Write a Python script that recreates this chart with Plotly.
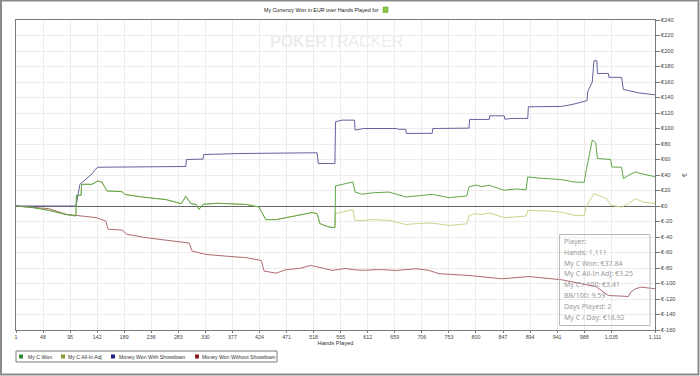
import plotly.graph_objects as go

# ---------------- data ----------------
series_names = ["My C Won", "My C All-In Adj", "Money Won With Showdown", "Money Won Without Showdown"]

won_hands = [1, 30, 58, 88, 105, 106, 114, 115, 133, 135, 143, 150, 159, 185, 190, 220, 262, 288, 296, 305, 314,
             319, 326, 350, 376, 401, 423, 428, 435, 453, 475, 495, 510, 515, 524, 529, 545, 555, 556, 574, 586,
             590, 602, 620, 649, 678, 700, 724, 753, 770, 784, 788, 800, 810, 823, 849, 870, 887, 890, 910, 927,
             949, 970, 988, 991, 1002, 1008, 1011, 1034, 1036, 1053, 1056, 1065, 1077, 1085, 1091, 1100, 1111]
won_vals = [0, -2, -5.6, -11, -12.9, 13.8, 13.8, 28, 28, 29, 32.3, 31, 19.4, 18.5, 15, 11.6, 8.2, 3, 12.5, 3, 2,
            -4.3, 2.2, 3.5, 2.9, 2, -1.3, -9, -17.6, -17.6, -14.7, -12, -9.9, -8.5, -9.9, -22.8, -27.2, -28, 25.9,
            29, 31, 18.1, 15.1, 17, 18, 11.6, 13, 15, 10.8, 12, 13, 24.6, 27, 25, 26.8, 20.3, 22, 21, 37.5, 36,
            35.4, 34, 31, 30.5, 44, 85, 82, 61.3, 60, 50.4, 50, 35.4, 39.7, 44, 42, 41, 39, 37.84]

adj_hands = [1, 30, 58, 88, 105, 106, 114, 115, 133, 135, 143, 150, 159, 185, 190, 220, 262, 288, 296, 305, 314,
             319, 326, 350, 376, 401, 423, 428, 435, 453, 475, 495, 510, 515, 524, 529, 545, 555, 556, 574, 586,
             590, 602, 620, 649, 678, 700, 724, 753, 770, 784, 788, 800, 810, 823, 849, 870, 887, 890, 910, 927,
             949, 970, 988, 991, 1005, 1013, 1027, 1034, 1053, 1065, 1077, 1085, 1091, 1100, 1111]
adj_vals = [0, -2, -5.6, -11, -12.9, 13.8, 13.8, 28, 28, 29, 32.3, 31, 19.4, 18.5, 15, 11.6, 8.2, 3, 12.5, 3, 2,
            -4.3, 2.2, 3.5, 2.9, 2, -1.3, -9, -17.6, -17.6, -14.7, -12, -9.9, -8.5, -9.9, -22.8, -27.2, -28, -9.9,
            -6.4, -4.6, -18.5, -19, -17.5, -18.5, -24, -22.5, -22, -25, -24, -23, -12, -10, -11, -9, -15, -13.5,
            -13, -5.6, -6, -6.5, -8, -12, -12.5, -1.3, 16, 14, 9.5, 0.9, -1.3, 3, 9.5, 7, 5.2, 4, 3.25]

sd_hands = [1, 105, 106, 112, 134, 137, 143, 220, 296, 297, 326, 327, 388, 524, 526, 555, 556, 567, 589, 590, 605,
            663, 664, 678, 679, 724, 725, 788, 789, 823, 824, 849, 850, 863, 890, 891, 949, 970, 988, 993, 994,
            1002, 1005, 1010, 1011, 1030, 1031, 1053, 1056, 1082, 1111]
sd_vals = [0, 0, 3, 28, 42, 46, 50, 50.5, 51, 60, 60.5, 66.4, 67.7, 68.7, 54.8, 54.8, 108.6, 110.8, 110.8, 97.9,
           100, 100, 99, 99, 93.6, 93.8, 100, 100.5, 111.7, 111.7, 116.4, 116.4, 112, 113, 113, 128, 128.5, 131.5,
           134.5, 136, 147.4, 160, 187.5, 187.5, 171, 171, 166, 166, 150.5, 146, 143.5]

nsd_hands = [1, 58, 88, 105, 140, 157, 161, 185, 194, 227, 272, 302, 307, 331, 371, 401, 427, 432, 453, 470, 493,
             513, 533, 550, 574, 585, 602, 631, 661, 696, 718, 736, 788, 823, 845, 892, 922, 949, 984, 1008, 1030,
             1065, 1069, 1077, 1087, 1111]
nsd_vals = [0, -3.4, -10.7, -12.4, -15, -19.4, -30, -31, -36.6, -40.9, -45.2, -47.8, -58.2, -62.5, -65, -66.7,
            -70.2, -84, -86.6, -82.2, -80.6, -76.7, -80, -83.1, -80.6, -82, -83, -82, -83.1, -81, -83, -87.4,
            -89.6, -91.8, -93.9, -91, -93.5, -95.2, -100.4, -103.8, -115.5, -116.7, -111, -106.8, -104.7, -106.8]

x_tick_vals = [1, 48, 95, 142, 189, 236, 283, 330, 377, 424, 471, 518, 565, 612, 659, 706, 753, 800, 847, 894,
               941, 988, 1035, 1111]
x_tick_text = ["1", "48", "95", "142", "189", "236", "283", "330", "377", "424", "471", "518", "565", "612",
               "659", "706", "753", "800", "847", "894", "941", "988", "1,035", "1,111"]
y_tick_vals = [240, 220, 200, 180, 160, 140, 120, 100, 80, 60, 40, 20, 0, -20, -40, -60, -80, -100, -120, -140, -160]
y_tick_text = ["€" + str(v) for v in y_tick_vals]

stats_lines = ["Player:", "Hands: 1,111", "My C Won: €37.84", "My C All-In Adj: €3.25", "My C / 100: €3.41",
               "BB/100: 9.59", "Days Played: 2", "My C / Day: €18.92"]

title_text = "My Currency Won in EUR over Hands Played for"

# ---------------- styling ----------------
line_colors = ["#5ea648", "#cdd28a", "#62629e", "#b06a6e"]
legend_colors = ["#2f8a2f", "#8f9a3c", "#1f1f86", "#8a1f22"]
SANS = "Liberation Sans, Arial"
W, H = 700, 376
L, R, T, B = 16, 655, 20, 330


def px(x):
    return (x - L) / (R - L)


def py(y):
    return (B - y) / (B - T)


fig = go.Figure()
# olive first so the green line sits on top where they coincide
fig.add_trace(go.Scatter(x=adj_hands, y=adj_vals, mode="lines", name=series_names[1],
                         line=dict(color=line_colors[1], width=1), showlegend=False, hoverinfo="skip"))
fig.add_trace(go.Scatter(x=nsd_hands, y=nsd_vals, mode="lines", name=series_names[3],
                         line=dict(color=line_colors[3], width=1), showlegend=False, hoverinfo="skip"))
fig.add_trace(go.Scatter(x=sd_hands, y=sd_vals, mode="lines", name=series_names[2],
                         line=dict(color=line_colors[2], width=1), showlegend=False, hoverinfo="skip"))
fig.add_trace(go.Scatter(x=won_hands, y=won_vals, mode="lines", name=series_names[0],
                         line=dict(color=line_colors[0], width=1), showlegend=False, hoverinfo="skip"))

shapes = []
annotations = []

# outer frame
shapes.append(dict(type="rect", xref="paper", yref="paper", x0=px(1), x1=px(698.5), y0=py(374.5), y1=py(0.5),
                   line=dict(color="#8a8a8a", width=2), layer="below"))

# title
annotations.append(dict(xref="paper", yref="paper", x=px(381), y=py(10), xanchor="right", yanchor="middle",
                        text=title_text, showarrow=False, font=dict(family=SANS, size=5.3, color="#222")))
shapes.append(dict(type="rect", xref="paper", yref="paper", x0=px(383), x1=px(388), y0=py(12.5), y1=py(7),
                   fillcolor="#8cc63f", line=dict(color="#5a9a2a", width=0.5)))

# watermark
annotations.append(dict(xref="paper", yref="paper", x=px(336), y=py(42), xanchor="center", yanchor="middle",
                        text="<b>POKER</b>TRACKER", showarrow=False,
                        font=dict(family=SANS, size=16, color="#ececec")))

# stats box
shapes.append(dict(type="rect", xref="paper", yref="paper", x0=px(559.5), x1=px(650), y0=py(325.5), y1=py(234.5),
                   line=dict(color="#b8b8b8", width=1)))
for i, s in enumerate(stats_lines):
    annotations.append(dict(xref="paper", yref="paper", x=px(561.5), y=py(241.5 + i * 10.8), xanchor="left",
                            yanchor="middle", text=s, showarrow=False,
                            font=dict(family="Noto Sans", size=7, color="#9a9a9a")))

# legend (drawn manually)
shapes.append(dict(type="rect", xref="paper", yref="paper", x0=px(16), x1=px(277), y0=py(362), y1=py(351),
                   line=dict(color="#7a7a7a", width=1)))
sq_x = [19, 61, 111, 195]
tx_x = [25.5, 66, 116.5, 200]
for i in range(4):
    shapes.append(dict(type="rect", xref="paper", yref="paper", x0=px(sq_x[i]), x1=px(sq_x[i] + 4),
                       y0=py(358.5), y1=py(354.5), fillcolor=legend_colors[i], line=dict(width=0)))
    annotations.append(dict(xref="paper", yref="paper", x=px(tx_x[i]), y=py(356.5), xanchor="left",
                            yanchor="middle", text=series_names[i], showarrow=False,
                            font=dict(family=SANS, size=5.2, color="#333")))

fig.update_layout(
    width=W, height=H,
    margin=dict(l=L, r=W - R, t=T, b=H - B, pad=0),
    paper_bgcolor="white", plot_bgcolor="white",
    showlegend=False,
    shapes=shapes, annotations=annotations,
    hovermode=False,
    xaxis=dict(range=[1, 1111], tickmode="array", tickvals=x_tick_vals, ticktext=x_tick_text, automargin=False,
               showgrid=True, gridcolor="#ececec", gridwidth=1, zeroline=False,
               showline=True, linecolor="#7a7a7a", linewidth=1, mirror=True,
               ticks="outside", ticklen=2, tickcolor="#7a7a7a",
               tickfont=dict(family=SANS, size=5.3, color="#444"),
               title=dict(text="Hands Played", standoff=1, font=dict(family=SANS, size=5.8, color="#333"))),
    yaxis=dict(range=[-160, 240], side="right", tickmode="array", tickvals=y_tick_vals, ticktext=y_tick_text,
               automargin=False,
               showgrid=True, gridcolor="#ececec", gridwidth=1,
               zeroline=True, zerolinecolor="#666666", zerolinewidth=1,
               showline=True, linecolor="#7a7a7a", linewidth=1, mirror=True,
               ticks="outside", ticklen=4, tickcolor="#7a7a7a",
               tickfont=dict(family=SANS, size=5.6, color="#444"),
               title=dict(text="€", standoff=7, font=dict(family=SANS, size=7, color="#555"))),
)

fig.write_html("out.html", config={"displayModeBar": False},
               post_script="document.body.style.margin='0';document.body.style.padding='0';")
